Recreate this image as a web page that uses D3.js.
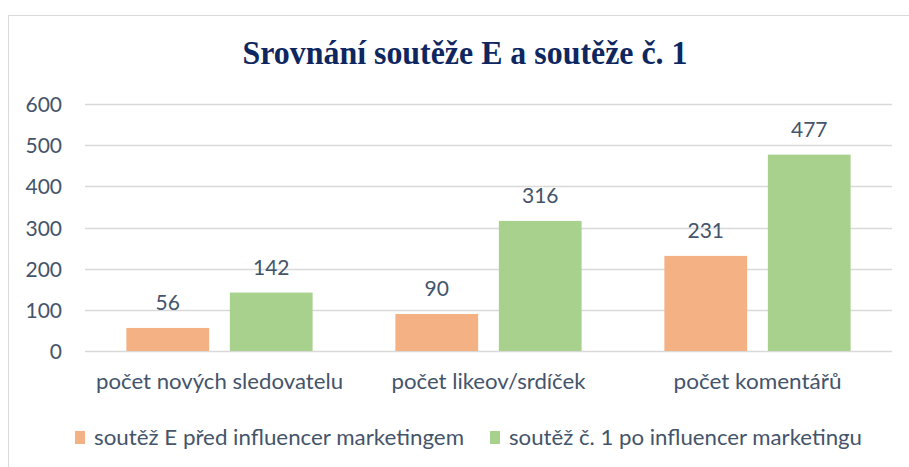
<!DOCTYPE html>
<html><head><meta charset="utf-8">
<script src="https://cdn.jsdelivr.net/npm/d3@7"></script>
<style>body{margin:0;background:#fff}svg{display:block}</style>
</head><body><svg id="c" width="909" height="467"></svg>
<script>
const categories = ["počet nových sledovatelu", "počet likeov/srdíček", "počet komentářů"];
const seriesNames = ["soutěž E před influencer marketingem", "soutěž č. 1 po influencer marketingu"];
const seriesA = [56, 90, 231];
const seriesB = [142, 316, 477];
const yTicks = [0, 100, 200, 300, 400, 500, 600];
const colors = ["#F4B183", "#A9D18E"];

const svg = d3.select("#c");
const font = "Lato, 'Open Sans', sans-serif";
const textColor = "#44546A";
const catWidths = [247, 194, 168];
const legendWidths = [370, 353];

// chart frame
svg.append("rect").attr("x", 8.5).attr("y", 15.5).attr("width", 920).attr("height", 470)
  .attr("fill", "#fff").attr("stroke", "#D9D9D9").attr("stroke-width", 1);

svg.append("text").attr("x", 465).attr("y", 64).attr("text-anchor", "middle")
  .attr("font-family", "'Liberation Serif', 'Times New Roman', serif").attr("font-weight", "bold")
  .attr("font-size", 33).attr("fill", "#0E2760")
  .attr("textLength", 445).attr("lengthAdjust", "spacingAndGlyphs")
  .text("Srovnání soutěže E a soutěže č. 1");

const x0 = d3.scaleBand().domain(categories).range([85, 892]).paddingInner(0).paddingOuter(0);
const x1 = d3.scaleBand().domain([0, 1]).range([0, x0.bandwidth()]).paddingInner(0.2).paddingOuter(0.4);
const y = d3.scaleLinear().domain([0, 600]).range([351, 104]);

const grid = svg.append("g");
grid.selectAll("line").data(yTicks).join("line")
  .attr("x1", 85).attr("x2", 892).attr("y1", d => Math.round(y(d)) + 0.5).attr("y2", d => Math.round(y(d)) + 0.5)
  .attr("stroke", "#D9D9D9").attr("stroke-width", 1.3);

const yAxis = d3.axisLeft(y).tickValues(yTicks).tickSize(0).tickPadding(0);
const ya = svg.append("g").attr("transform", "translate(62,0)").call(yAxis);
ya.select(".domain").remove();
ya.selectAll("text").attr("font-family", font).attr("font-size", 21).attr("fill", textColor).attr("dy", "0.36em");

const data = categories.map((c, i) => ({c, vals: [seriesA[i], seriesB[i]]}));
const groups = svg.append("g").selectAll("g").data(data).join("g")
  .attr("transform", d => `translate(${x0(d.c)},0)`);
groups.selectAll("rect").data(d => d.vals.map((v, k) => ({v, k}))).join("rect")
  .attr("x", d => x1(d.k)).attr("width", x1.bandwidth())
  .attr("y", d => y(d.v)).attr("height", d => y(0) - y(d.v))
  .attr("fill", d => colors[d.k]);
groups.selectAll("text").data(d => d.vals.map((v, k) => ({v, k}))).join("text")
  .attr("x", d => x1(d.k) + x1.bandwidth() / 2).attr("y", d => y(d.v) - 18)
  .attr("text-anchor", "middle").attr("font-family", font).attr("font-size", 21)
  .attr("fill", textColor).text(d => d.v);

const xAxis = d3.axisBottom(x0).tickSize(0).tickPadding(0);
const xa = svg.append("g").attr("transform", "translate(0,389)").call(xAxis);
xa.select(".domain").remove();
xa.selectAll("text").attr("font-family", font).attr("font-size", 21).attr("fill", textColor)
  .attr("dy", null).attr("y", 0)
  .attr("textLength", (d, i) => catWidths[i]).attr("lengthAdjust", "spacingAndGlyphs");

const legendX = [75, 490];
const lg = svg.append("g").selectAll("g").data(seriesNames).join("g")
  .attr("transform", (d, i) => `translate(${legendX[i]},0)`);
lg.append("rect").attr("y", 431).attr("width", 10).attr("height", 13).attr("fill", (d, i) => colors[i]);
lg.append("text").attr("x", 19).attr("y", 445)
  .attr("font-family", font).attr("font-size", 21).attr("fill", textColor)
  .attr("textLength", (d, i) => legendWidths[i]).attr("lengthAdjust", "spacingAndGlyphs")
  .text(d => d);
</script></body></html>
